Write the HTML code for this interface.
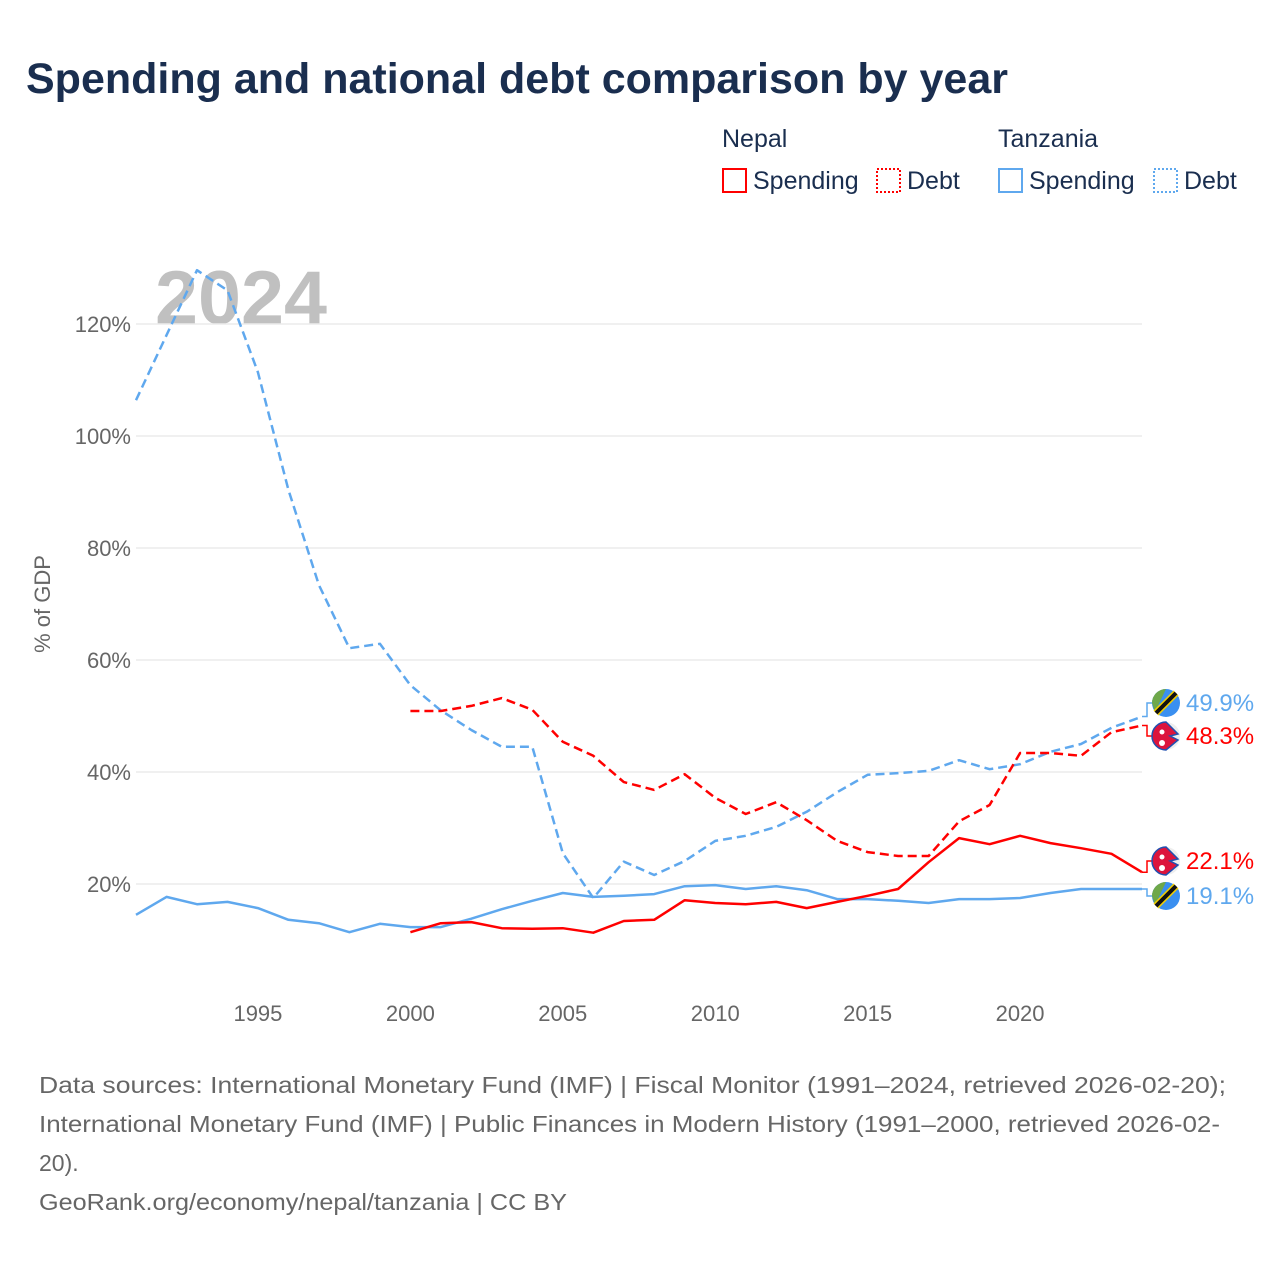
<!DOCTYPE html>
<html><head><meta charset="utf-8"><style>
body{margin:0;background:#fff;font-family:"Liberation Sans",sans-serif;}
svg text{font-family:"Liberation Sans",sans-serif;}
</style></head><body>
<svg id="chart" width="1280" height="1280" viewBox="0 0 1280 1280" xmlns="http://www.w3.org/2000/svg">
<rect width="1280" height="1280" fill="#fff"/>
<text x="26" y="93" font-size="43" font-weight="bold" fill="#1a2e4f">Spending and national debt comparison by year</text>
<g font-size="25" fill="#1a2e4f">
<text x="722" y="147" fill="#1a2e4f">Nepal</text>
<text x="998" y="147" fill="#1a2e4f">Tanzania</text>
<g><rect x="723" y="169" width="23" height="23" fill="none" stroke="#f00" stroke-width="2"/><text x="753" y="189" fill="#1a2e4f">Spending</text></g>
<g><rect x="877" y="169" width="23" height="23" fill="none" stroke="#f00" stroke-width="2" stroke-dasharray="2,2"/><text x="907" y="189" fill="#1a2e4f">Debt</text></g>
<g><rect x="999" y="169" width="23" height="23" fill="none" stroke="#5fa8ee" stroke-width="2"/><text x="1029" y="189" fill="#1a2e4f">Spending</text></g>
<g><rect x="1154" y="169" width="23" height="23" fill="none" stroke="#5fa8ee" stroke-width="2" stroke-dasharray="2,2"/><text x="1184" y="189" fill="#1a2e4f">Debt</text></g>
</g>
<text x="155" y="324" font-size="76" font-weight="bold" fill="#c0c0c0" textLength="172" lengthAdjust="spacingAndGlyphs">2024</text>
<g id="grid"></g>
<g id="xaxis"></g>
<text transform="translate(50,604) rotate(-90)" text-anchor="middle" font-size="22" fill="#666">% of GDP</text>
<g id="series"></g>
<g id="endlabels"></g>
<g font-size="23" fill="#666">
<text x="39" y="1093" textLength="1187" lengthAdjust="spacingAndGlyphs">Data sources: International Monetary Fund (IMF) | Fiscal Monitor (1991–2024, retrieved 2026-02-20);</text>
<text x="39" y="1132" textLength="1181" lengthAdjust="spacingAndGlyphs">International Monetary Fund (IMF) | Public Finances in Modern History (1991–2000, retrieved 2026-02-</text>
<text x="39" y="1171">20).</text>
<text x="39" y="1210" textLength="528" lengthAdjust="spacingAndGlyphs">GeoRank.org/economy/nepal/tanzania | CC BY</text>
</g>
</svg>
<script>
const yTicks=[20,40,60,80,100,120];
const xTicks=[1995,2000,2005,2010,2015,2020];
const tzYears=[1991,1992,1993,1994,1995,1996,1997,1998,1999,2000,2001,2002,2003,2004,2005,2006,2007,2008,2009,2010,2011,2012,2013,2014,2015,2016,2017,2018,2019,2020,2021,2022,2023,2024];
const npYears=[2000,2001,2002,2003,2004,2005,2006,2007,2008,2009,2010,2011,2012,2013,2014,2015,2016,2017,2018,2019,2020,2021,2022,2023,2024];
const tzDebt=[106.4,118,129.6,126,111.4,90.4,73.4,62.1,62.9,55.5,51,47.5,44.5,44.5,25.5,17.5,24,21.6,24.1,27.7,28.6,30.2,32.9,36.4,39.5,39.8,40.2,42.1,40.5,41.4,43.6,45,47.9,49.9];
const tzSpend=[14.5,17.7,16.4,16.8,15.7,13.6,13,11.4,12.9,12.3,12.3,13.8,15.5,17,18.4,17.7,17.9,18.2,19.6,19.8,19.1,19.6,18.9,17.3,17.3,17,16.6,17.3,17.3,17.5,18.4,19.1,19.1,19.1];
const npDebt=[50.9,50.9,51.8,53.2,51.1,45.4,42.9,38.2,36.8,39.6,35.4,32.5,34.6,31.4,27.7,25.7,25,25,31.2,34.1,43.4,43.4,42.9,47.1,48.3];
const npSpend=[11.4,13,13.2,12.1,12,12.1,11.3,13.4,13.6,17.1,16.6,16.4,16.8,15.7,16.8,17.9,19.1,23.9,28.2,27.1,28.6,27.3,26.4,25.4,22.1];
const X=y=>136+(y-1991)*(1142-136)/33;
const Y=v=>996-v*5.6;
const NS='http://www.w3.org/2000/svg';
function mk(tag,attrs,parent){const e=document.createElementNS(NS,tag);for(const k in attrs)e.setAttribute(k,attrs[k]);parent.appendChild(e);return e;}
const grid=document.getElementById('grid');
yTicks.forEach(t=>{
 const l=mk('line',{x1:136,x2:1142,y1:Y(t),y2:Y(t),stroke:'#ececec','stroke-width':1.5},grid);
 
 
 const tx=mk('text',{x:131,y:Y(t)+8,'text-anchor':'end','font-size':22,fill:'#666'},grid);
 tx.textContent=t+'%';
 
 
});
const xa=document.getElementById('xaxis');
xTicks.forEach(t=>{
 const tx=mk('text',{x:X(t),y:1021,'text-anchor':'middle','font-size':22,fill:'#666'},xa);
 tx.textContent=t;
 
 
});
const sg=document.getElementById('series');
function line(years,vals,color,dash,name){
 const d=years.map((y,i)=>(i?'L':'M')+X(y).toFixed(1)+','+Y(vals[i]).toFixed(1)).join(' ');
 const p=mk('path',{d:d,fill:'none',stroke:color,'stroke-width':2.5,'stroke-linejoin':'round'},sg);
 if(dash)p.setAttribute('stroke-dasharray','9,5');
 
 
}
line(tzYears,tzDebt,'#5fa8ee',true,'tanzania-debt-line');
line(tzYears,tzSpend,'#5fa8ee',false,'tanzania-spending-line');
line(npYears,npDebt,'#f00',true,'nepal-debt-line');
line(npYears,npSpend,'#f00',false,'nepal-spending-line');
const el=document.getElementById('endlabels');
function endLabel(v,ly,color,country,name){
 const vy=Y(v);
 mk('path',{d:`M1142,${vy} L1147,${vy} L1147,${ly} L1153,${ly}`,fill:'none',stroke:color,'stroke-width':1.5},el);
 const g=mk('g',{},el);
 
 
 if(country==='tz'){
  mk('circle',{cx:1166,cy:ly,r:14,fill:'#3a8ff0'},g);
  mk('path',{d:`M1152,${ly} A14,14 0 0 1 1166,${ly-14} L1155,${ly+9} Z`,fill:'#6fa84a'},g);
  mk('line',{x1:1156,y1:ly+10,x2:1176,y2:ly-10,stroke:'#f5d000','stroke-width':7},g);
  mk('line',{x1:1156,y1:ly+10,x2:1176,y2:ly-10,stroke:'#111','stroke-width':4},g);
 }else{
  mk('circle',{cx:1166,cy:ly,r:14,fill:'#eee'},g);
  mk('path',{d:`M1166,${ly-14} A14,14 0 0 0 1166,${ly+14} L1178,${ly+4} L1170,${ly} L1178,${ly-2} Z`,fill:'#dc143c',stroke:'#2050b0','stroke-width':1.5},g);
  mk('circle',{cx:1162,cy:ly-4,r:2.5,fill:'#fff'},g);
  mk('circle',{cx:1162,cy:ly+7,r:3,fill:'#fff'},g);
 }
 const t=mk('text',{x:1186,y:ly+8,'font-size':24,fill:color},el);
 t.textContent=v.toFixed(1)+'%';
 
 
}
endLabel(tzDebt[tzDebt.length-1],703,'#5fa8ee','tz','tanzania-debt');
endLabel(npDebt[npDebt.length-1],736,'#f00','np','nepal-debt');
endLabel(npSpend[npSpend.length-1],861,'#f00','np','nepal-spending');
endLabel(tzSpend[tzSpend.length-1],896,'#5fa8ee','tz','tanzania-spending');
</script>
</body></html>
